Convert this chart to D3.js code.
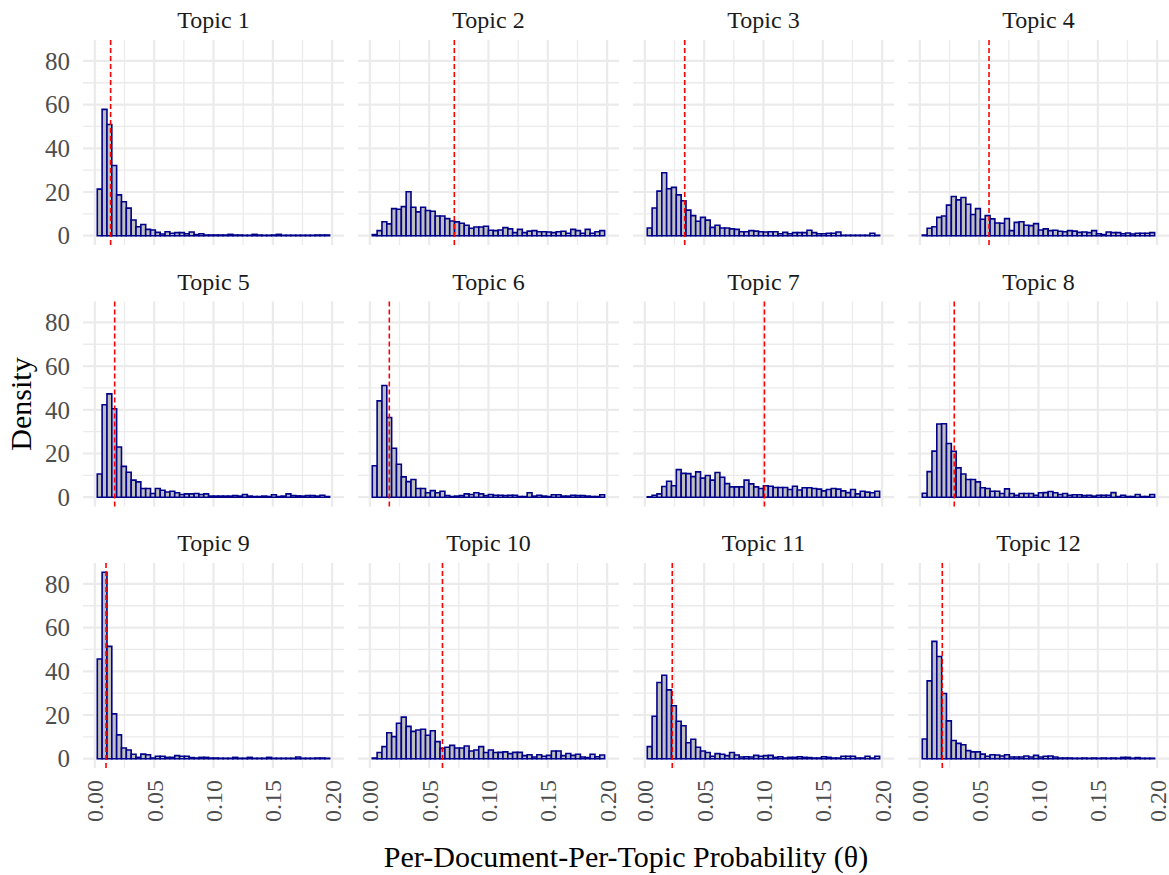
<!DOCTYPE html>
<html>
<head>
<meta charset="utf-8">
<script src="https://cdn.jsdelivr.net/npm/d3@7"></script>
<style>
  html, body { margin: 0; padding: 0; background: #ffffff; }
  svg { display: block; }
  svg text { font-family: "Liberation Serif", "Times New Roman", "DejaVu Serif", serif; }
</style>
</head>
<body>
<svg id="chart" width="1169" height="875"></svg>
<script>
// Facet titles
const topics = ["Topic 1", "Topic 2", "Topic 3", "Topic 4", "Topic 5", "Topic 6",
                "Topic 7", "Topic 8", "Topic 9", "Topic 10", "Topic 11", "Topic 12"];

// Mean per-document probability for each topic (dashed reference line)
const topicMeans = [0.0133, 0.0712, 0.0336, 0.0583, 0.0167, 0.0164,
                    0.1008, 0.0290, 0.0094, 0.0612, 0.0231, 0.0189];

// Histogram bins: 48 bins of equal width starting just above zero
const binStart = 0.00204;
const binWidth = 0.00408;

// Density per bin, one array per topic
const topic1 = [21.3, 57.8, 50.9, 32.1, 18.7, 15.5, 12.6, 7.2, 4.1, 5.1, 2.9, 2.6, 1.5, 0.8, 1.8, 1.1,
                1.4, 1.4, 0.9, 1.7, 0.5, 0.9, 0.3, 0.3, 0.3, 0.3, 0.3, 0.6, 0.3, 0.3, 0.2, 0.2,
                0.6, 0.3, 0.2, 0.2, 0.3, 0.6, 0.2, 0.2, 0.2, 0.2, 0.2, 0.2, 0.2, 0.3, 0.3, 0.3];
const topic2 = [0.5, 2.3, 6.4, 5.4, 12.4, 12.1, 13.3, 20.1, 13.0, 10.9, 13.0, 11.5, 11.2, 9.0, 9.0, 7.8,
                6.7, 6.3, 5.7, 4.8, 3.4, 4.0, 4.0, 4.3, 2.5, 2.3, 2.6, 3.7, 3.1, 1.4, 2.9, 1.4,
                2.1, 2.3, 1.8, 1.8, 1.7, 1.4, 1.8, 2.0, 1.1, 2.9, 2.3, 1.1, 2.9, 1.1, 1.8, 2.3];
const topic3 = [3.5, 12.7, 20.4, 28.8, 21.5, 22.1, 18.7, 16.0, 11.7, 9.2, 6.6, 8.4, 7.1, 3.8, 4.8, 3.5,
                3.5, 3.1, 2.9, 1.8, 1.8, 2.3, 2.1, 1.8, 1.7, 1.8, 1.8, 0.9, 1.5, 0.9, 1.4, 1.4,
                1.4, 2.5, 1.4, 0.9, 0.9, 1.1, 1.1, 1.7, 0.2, 0.2, 0.2, 0.2, 0.2, 0.2, 1.1, 0.2];
const topic4 = [0.3, 3.4, 4.1, 8.4, 9.0, 14.0, 17.9, 16.4, 17.5, 14.4, 9.7, 12.4, 7.5, 9.2, 7.7, 5.8,
                5.7, 7.8, 2.3, 6.1, 6.4, 4.8, 4.6, 5.5, 2.6, 3.1, 2.3, 2.5, 2.0, 1.8, 2.3, 2.1,
                1.5, 1.7, 1.4, 2.3, 0.9, 0.5, 1.7, 1.4, 1.4, 0.9, 1.2, 0.8, 1.1, 1.1, 1.1, 1.4];
const topic5 = [10.6, 42.3, 47.3, 40.5, 23.0, 14.1, 11.4, 7.8, 7.0, 4.0, 4.0, 1.7, 4.0, 3.2, 2.4, 2.7,
                2.0, 1.2, 1.5, 1.5, 1.7, 1.2, 1.5, 0.5, 0.5, 0.5, 0.5, 0.5, 0.8, 0.5, 1.2, 0.5,
                0.3, 0.3, 0.5, 0.3, 1.1, 0.3, 0.5, 1.5, 0.8, 0.6, 0.5, 0.8, 0.8, 0.5, 0.9, 0.3];
const topic6 = [14.4, 44.1, 51.1, 36.5, 22.4, 15.1, 9.3, 7.1, 8.1, 4.0, 4.0, 2.0, 3.0, 2.0, 2.7, 0.8,
                0.3, 0.5, 0.8, 1.5, 1.2, 2.0, 1.5, 0.8, 1.2, 0.9, 0.9, 0.8, 0.9, 0.9, 0.3, 0.3,
                2.0, 0.5, 0.9, 0.5, 0.3, 1.1, 1.1, 0.5, 0.5, 0.9, 0.8, 0.8, 0.5, 0.3, 0.3, 1.1];
const topic7 = [0.2, 0.9, 1.5, 4.9, 7.3, 5.2, 12.6, 10.9, 10.8, 9.4, 11.6, 8.7, 9.9, 7.8, 11.3, 9.1,
                6.2, 4.7, 4.7, 4.7, 7.8, 6.1, 4.7, 4.0, 5.2, 5.0, 4.4, 4.4, 4.4, 3.5, 5.0, 3.3,
                4.3, 4.3, 4.0, 3.7, 2.9, 3.5, 4.0, 3.7, 2.9, 2.1, 3.5, 1.5, 2.7, 2.3, 2.0, 2.7];
const topic8 = [1.8, 11.7, 21.1, 33.5, 33.6, 24.6, 21.0, 13.4, 10.6, 8.1, 8.1, 7.0, 4.3, 4.0, 2.7, 2.7,
                1.7, 3.8, 1.7, 0.9, 1.7, 1.7, 1.7, 0.9, 2.0, 2.1, 2.6, 2.0, 1.2, 1.7, 0.9, 1.1,
                1.1, 0.8, 0.9, 0.5, 0.9, 0.9, 0.9, 2.1, 0.3, 0.9, 0.3, 0.3, 1.2, 0.3, 0.3, 1.2];
const topic9 = [45.6, 85.3, 51.4, 20.5, 10.9, 4.9, 4.0, 2.0, 0.6, 2.1, 1.8, 0.3, 1.1, 1.1, 0.6, 0.6,
                1.4, 1.1, 1.1, 0.5, 0.3, 0.6, 0.6, 0.3, 0.3, 0.2, 0.2, 0.2, 0.6, 0.2, 0.2, 0.6,
                0.2, 0.2, 0.2, 0.6, 0.2, 0.2, 0.2, 0.2, 0.2, 0.8, 0.2, 0.2, 0.2, 0.3, 0.3, 0.2];
const topic10 = [0.3, 2.8, 5.5, 11.9, 10.1, 16.2, 19.0, 14.8, 12.5, 13.1, 13.5, 10.7, 12.8, 7.8, 4.7, 5.2,
                 6.1, 4.9, 4.9, 5.8, 3.5, 4.0, 5.5, 2.8, 4.0, 2.8, 2.9, 3.1, 2.3, 2.9, 2.9, 1.4,
                 1.8, 0.8, 1.8, 1.1, 1.5, 3.5, 3.5, 1.4, 2.4, 1.5, 2.0, 0.8, 0.5, 2.0, 0.9, 1.7];
const topic11 = [5.5, 19.4, 34.9, 38.2, 31.5, 24.2, 17.1, 15.1, 7.3, 8.9, 5.2, 3.5, 2.8, 1.1, 2.3, 2.0,
                 1.4, 2.8, 1.7, 0.8, 0.9, 0.8, 1.5, 1.1, 1.4, 1.5, 0.6, 0.9, 0.3, 0.6, 0.6, 0.9,
                 0.6, 0.5, 0.3, 0.3, 0.9, 0.6, 0.3, 0.3, 1.1, 1.1, 1.1, 0.3, 0.3, 1.1, 0.3, 1.1];
const topic12 = [9.0, 35.6, 53.7, 46.8, 29.8, 17.3, 8.3, 7.0, 6.4, 3.7, 3.1, 3.1, 2.1, 1.1, 1.8, 1.7,
                 1.2, 1.8, 0.8, 0.8, 0.8, 1.2, 0.8, 1.5, 0.8, 1.1, 1.2, 0.8, 0.3, 0.3, 0.3, 0.2,
                 0.2, 0.3, 0.2, 0.3, 0.2, 0.3, 0.2, 0.3, 0.2, 0.6, 0.6, 0.2, 0.5, 0.2, 0.2, 0.2];

const densities = [topic1, topic2, topic3, topic4, topic5, topic6,
                   topic7, topic8, topic9, topic10, topic11, topic12];

// Axis ticks
const xMajorTicks = [0, 0.05, 0.10, 0.15, 0.20];
const xMinorTicks = [0.025, 0.075, 0.125, 0.175];
const yMajorTicks = [0, 20, 40, 60, 80];
const yMinorTicks = [10, 30, 50, 70];

// ---- layout ----
const nCols = 4, nRows = 3;
const panelW = 261, panelH = 205;
const panelLeft = 83, colStep = 275;
const panelTop = 40, rowStep = 261.5;
const serif = "'Liberation Serif', 'Times New Roman', 'DejaVu Serif', serif";

const svg = d3.select("#chart");

// Shared scales (fixed across facets), 5% padding around the limits
const xLim = [0, 0.2];
const xPad = (xLim[1] - xLim[0]) * 0.05;
const x = d3.scaleLinear().domain([xLim[0] - xPad, xLim[1] + xPad]).range([0, panelW]);

const yMax = d3.max(densities, d => d3.max(d));
const yPad = yMax * 0.05;
const y = d3.scaleLinear().domain([-yPad, yMax + yPad]).range([panelH, 0]);

const gridColor = "#ebebeb";

densities.forEach((vals, i) => {
  const col = i % nCols, row = Math.floor(i / nCols);
  const g = svg.append("g")
    .attr("transform", `translate(${panelLeft + col * colStep},${panelTop + row * rowStep})`);

  // minor grid
  g.selectAll(".xminor").data(xMinorTicks).join("line")
    .attr("x1", d => x(d)).attr("x2", d => x(d)).attr("y1", 0).attr("y2", panelH)
    .attr("stroke", gridColor).attr("stroke-width", 1.3);
  g.selectAll(".yminor").data(yMinorTicks).join("line")
    .attr("y1", d => y(d)).attr("y2", d => y(d)).attr("x1", 0).attr("x2", panelW)
    .attr("stroke", gridColor).attr("stroke-width", 1.3);
  // major grid
  g.selectAll(".xmajor").data(xMajorTicks).join("line")
    .attr("x1", d => x(d)).attr("x2", d => x(d)).attr("y1", 0).attr("y2", panelH)
    .attr("stroke", gridColor).attr("stroke-width", 2.2);
  g.selectAll(".ymajor").data(yMajorTicks).join("line")
    .attr("y1", d => y(d)).attr("y2", d => y(d)).attr("x1", 0).attr("x2", panelW)
    .attr("stroke", gridColor).attr("stroke-width", 2.2);

  // histogram bars
  const bins = vals.map((v, k) => ({ x0: binStart + k * binWidth, x1: binStart + (k + 1) * binWidth, v }));
  g.append("g").selectAll("path").data(bins).join("path")
    .attr("d", b => {
      const x0 = x(b.x0), x1 = x(b.x1), y0 = y(0), y1 = y(b.v);
      return `M${x0},${y0}V${y1}H${x1}V${y0}Z`;
    })
    .attr("fill", "#bebebe")
    .attr("stroke", "#00008b")
    .attr("stroke-width", 1.6)
    .attr("stroke-linejoin", "miter");

  // mean line
  g.append("line")
    .attr("x1", x(topicMeans[i])).attr("x2", x(topicMeans[i]))
    .attr("y1", 0).attr("y2", panelH)
    .attr("stroke", "#ff0000").attr("stroke-width", 1.6)
    .attr("stroke-dasharray", "5,3");

  // strip title
  g.append("text")
    .attr("x", panelW / 2).attr("y", -12)
    .attr("text-anchor", "middle")
    .attr("font-family", serif)
    .attr("font-size", 24).attr("fill", "#1a1a1a")
    .text(topics[i]);

  // y tick labels on the first column
  if (col === 0) {
    g.selectAll(".ylab").data(yMajorTicks).join("text")
      .attr("x", -13).attr("y", d => y(d)).attr("dy", "0.35em")
      .attr("text-anchor", "end")
      .attr("font-family", serif)
      .attr("font-size", 25).attr("fill", "#4d4d4d")
      .text(d => d);
  }
  // x tick labels on the bottom row
  if (row === nRows - 1) {
    g.selectAll(".xlab").data(xMajorTicks).join("text")
      .attr("transform", d => `translate(${x(d)},${panelH + 12}) rotate(-90)`)
      .attr("dy", "0.35em")
      .attr("text-anchor", "end")
      .attr("font-family", serif)
      .attr("font-size", 24).attr("fill", "#4d4d4d")
      .text(d3.format(".2f"));
  }
});

// axis titles
const plotLeft = panelLeft, plotRight = panelLeft + (nCols - 1) * colStep + panelW;
const plotTop = panelTop, plotBottom = panelTop + (nRows - 1) * rowStep + panelH;

svg.append("text")
  .attr("transform", `translate(31,${(plotTop + plotBottom) / 2}) rotate(-90)`)
  .attr("text-anchor", "middle")
  .attr("font-family", serif)
  .attr("font-size", 30).attr("fill", "#000000")
  .text("Density");

svg.append("text")
  .attr("x", (plotLeft + plotRight) / 2).attr("y", 867)
  .attr("text-anchor", "middle")
  .attr("font-family", serif)
  .attr("font-size", 30).attr("fill", "#000000")
  .text("Per-Document-Per-Topic Probability (θ)");
</script>
</body>
</html>
